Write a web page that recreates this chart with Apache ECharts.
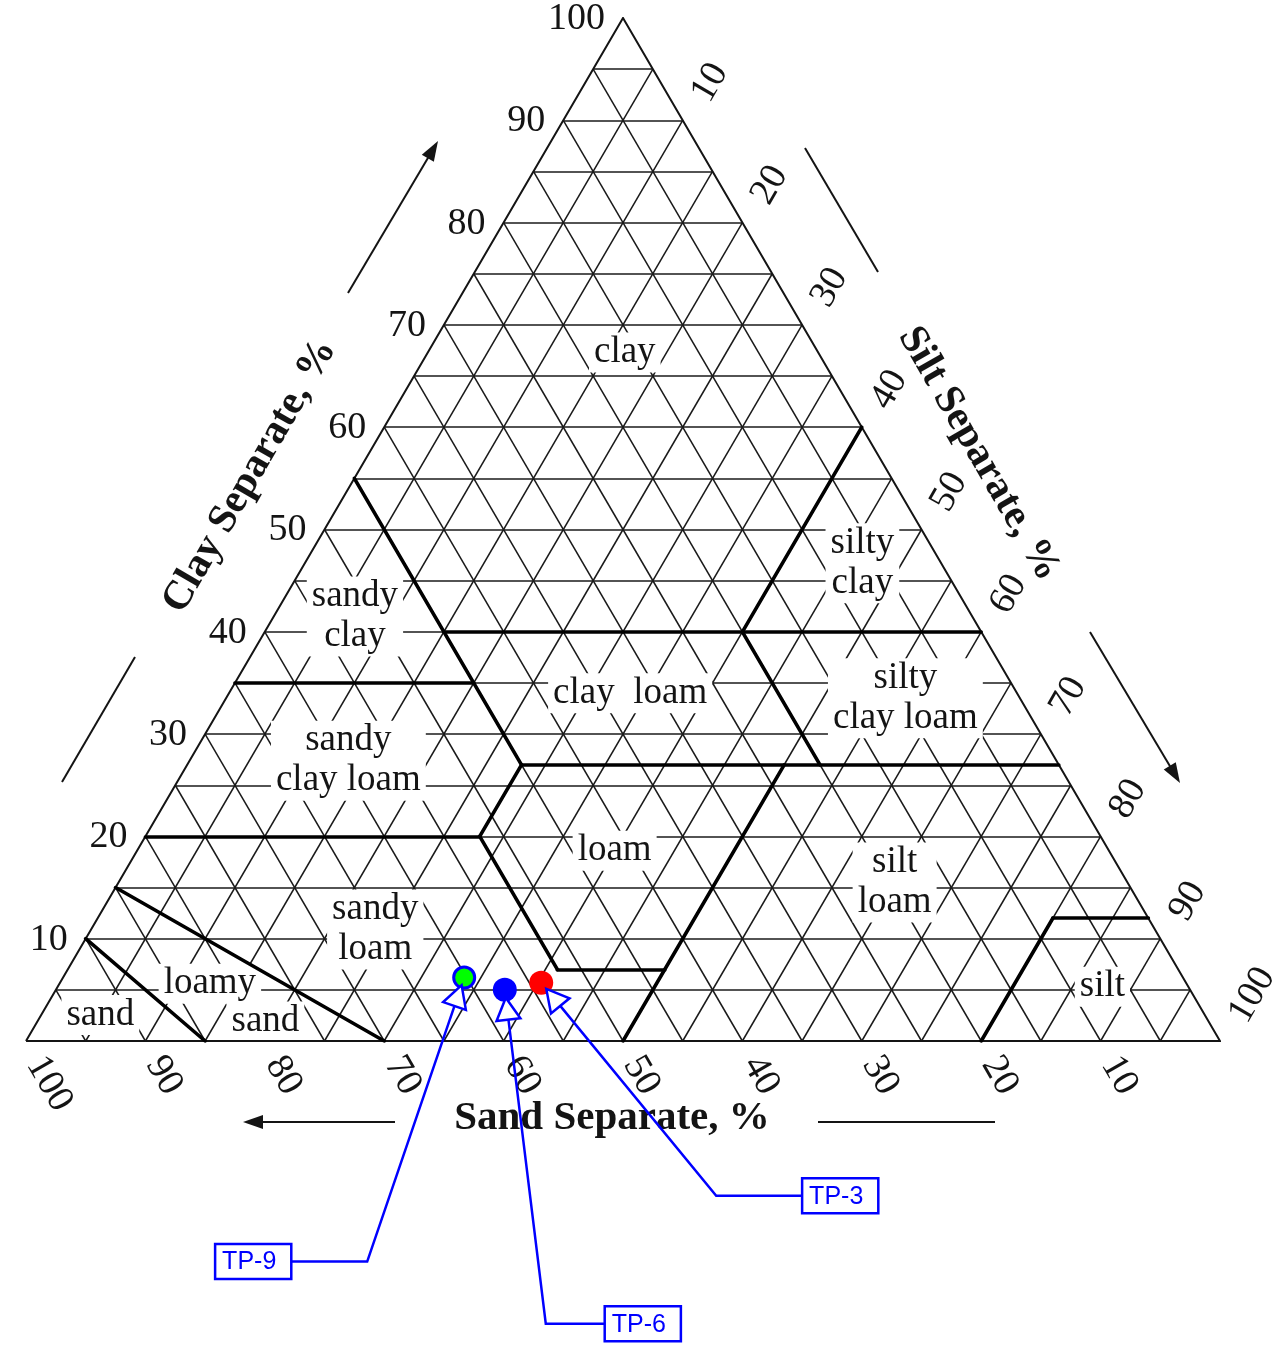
<!DOCTYPE html>
<html>
<head>
<meta charset="utf-8">
<title>Soil texture triangle</title>
<script src="https://cdn.jsdelivr.net/npm/echarts@6/dist/echarts.min.js"></script>
<style>
  html, body { margin: 0; padding: 0; background: #ffffff; }
  #chart { width: 1282px; height: 1345px; }
</style>
</head>
<body>
<div id="chart"></div>
<script>
// ---- axis ticks (percent) and spacing of the fine triangular grid ----
const tickValues = [10, 20, 30, 40, 50, 60, 70, 80, 90, 100];
const gridStep = 5;

// ---- texture class names and label anchors, as (sand, silt, clay) % ----
const classNames = ['clay', 'silty\nclay', 'sandy\nclay', 'clay  loam', 'silty\nclay loam',
                    'sandy\nclay loam', 'loam', 'silt\nloam', 'sandy\nloam', 'loamy', 'sand', 'sand', 'silt'];
const classSand = [16.2, 6.6, 51.7, 32.4, 9.6, 59.3, 41.4, 19.5, 65.3, 81.8, 79.0, 92.5, 7.2];
const classSilt = [16.5, 46.7, 6.8, 33.6, 56.9, 13.3, 40.0, 65.0, 23.8, 12.6, 19.1, 4.95, 87.5];
const classClay = [67.3, 46.7, 41.5, 34.0, 33.5, 27.4, 18.6, 15.5, 10.9, 5.6, 1.9, 2.55, 5.3];

// ---- class boundaries: each segment runs between two (sand, silt, clay) points ----
const boundarySegments = [
  [[45, 0, 55], [45, 28, 27]],   // sand 45 %
  [[45, 15, 40], [0, 60, 40]],   // clay 40 %
  [[0, 40, 60], [20, 40, 40]],   // silt 40 %
  [[65, 0, 35], [45, 20, 35]],   // clay 35 %
  [[20, 40, 40], [20, 53, 27]],  // sand 20 %
  [[45, 28, 27], [0, 73, 27]],   // clay 27 %
  [[80, 0, 20], [52, 28, 20]],   // clay 20 %
  [[52, 28, 20], [45, 28, 27]],  // silt 28 %
  [[52, 28, 20], [52, 41, 7]],   // sand 52 %
  [[52, 41, 7], [43, 50, 7]],    // clay 7 %
  [[23, 50, 27], [50, 50, 0]],   // silt 50 %
  [[20, 80, 0], [8, 80, 12]],    // silt 80 %
  [[8, 80, 12], [0, 88, 12]],    // clay 12 %
  [[85, 0, 15], [70, 30, 0]],    // loamy sand / sandy loam
  [[90, 0, 10], [85, 15, 0]]     // sand / loamy sand
];

// ---- test pit samples (sand, silt, clay) % ----
const sampleNames = ['TP-3', 'TP-6', 'TP-9'];
const sampleSand = [54.0, 57.4, 60.2];
const sampleSilt = [40.3, 37.6, 33.6];
const sampleClay = [5.7, 5.0, 6.2];

// marker look of each sample
const sampleStyle = {
  'TP-3': { size: 24, color: '#ff0000', border: '#ff0000', borderWidth: 0 },
  'TP-6': { size: 24, color: '#0000ff', border: '#0000ff', borderWidth: 0 },
  'TP-9': { size: 21, color: '#00ff00', border: '#0000ff', borderWidth: 3 }
};
// callout placement in pixels, relative to the marker centre
const calloutLayout = {
  'TP-3': { box: [299, 213], elbow: [175, 213] },
  'TP-6': { box: [138, 334], elbow: [41, 334] },
  'TP-9': { box: [-211, 284], elbow: [-97, 284] }
};

// ternary (sand, silt, clay) -> cartesian (x, y) in axis units
function tern(sand, silt, clay) {
  const t = sand + silt + clay;
  return [(silt + clay / 2) / t * 100, clay / t * 100];
}

const SERIF = '"Liberation Serif", "Times New Roman", serif';
const SANS = '"Liberation Sans", Arial, sans-serif';
const INK = '#141414';

// fine grid: lines of constant clay, sand and silt
const gridSegs = [];
for (let k = gridStep; k < 100; k += gridStep) {
  gridSegs.push({ coords: [tern(100 - k, 0, k), tern(0, 100 - k, k)] });
  gridSegs.push({ coords: [tern(k, 0, 100 - k), tern(k, 100 - k, 0)] });
  gridSegs.push({ coords: [tern(0, k, 100 - k), tern(100 - k, k, 0)] });
}
const outline = [{ coords: [tern(100, 0, 0), tern(0, 100, 0), tern(0, 0, 100), tern(100, 0, 0)] }];
const boundaryData = boundarySegments.map(s => ({ coords: [tern.apply(null, s[0]), tern.apply(null, s[1])] }));

function textStyle(o) {
  // give both the zrender and the legacy alignment names
  const s = Object.assign({}, o);
  if (s.align) s.textAlign = s.align;
  if (s.verticalAlign) s.textVerticalAlign = s.verticalAlign;
  return s;
}

// tick label series for one side of the triangle
function tickSeries(pointOf, dx, dy, rotation, align) {
  return {
    type: 'custom', coordinateSystem: 'cartesian2d', silent: true, z: 4,
    data: tickValues.map(v => pointOf(v)),
    renderItem: function (params, api) {
      const p = api.coord([api.value(0), api.value(1)]);
      return {
        type: 'text', x: p[0] + dx, y: p[1] + dy, rotation: rotation,
        style: textStyle({ text: String(tickValues[params.dataIndex]), font: '38px ' + SERIF,
          fill: INK, align: align, verticalAlign: 'middle' })
      };
    }
  };
}

// measure label text for the callout boxes
const measureCtx = document.createElement('canvas').getContext('2d');
measureCtx.font = '25px ' + SANS;

function calloutItem(params, api) {
  const name = sampleNames[params.dataIndex];
  const lay = calloutLayout[name];
  const p = api.coord([api.value(0), api.value(1)]);
  const blue = '#0000ff';
  const bx = p[0] + lay.box[0], by = p[1] + lay.box[1];
  const ex = p[0] + lay.elbow[0], ey = p[1] + lay.elbow[1];
  const tw = measureCtx.measureText(name).width;
  const padL = 7, padR = 15, h = 35;
  const w = tw + padL + padR;
  const left = bx - w / 2, top = by - h / 2;
  const edgeX = ex > bx ? left + w : left;
  // arrow tip sits just inside the marker, pointing from the elbow
  let ux = p[0] - ex, uy = p[1] - ey;
  const ul = Math.sqrt(ux * ux + uy * uy); ux /= ul; uy /= ul;
  const tip = [p[0] - ux * 8, p[1] - uy * 8];
  const headLen = 22, headHalf = 12;
  const base = [tip[0] - ux * headLen, tip[1] - uy * headLen];
  const nx = -uy, ny = ux;
  return {
    type: 'group',
    children: [
      { type: 'polyline', shape: { points: [[edgeX, by], [ex, ey], base] },
        style: { stroke: blue, lineWidth: 2.5, fill: null } },
      { type: 'polygon', shape: { points: [tip, [base[0] + nx * headHalf, base[1] + ny * headHalf],
          [base[0] - nx * headHalf, base[1] - ny * headHalf]] },
        style: { stroke: blue, lineWidth: 2.5, fill: '#ffffff' } },
      { type: 'rect', shape: { x: left, y: top, width: w, height: h },
        style: { stroke: blue, lineWidth: 2.5, fill: '#ffffff' } },
      { type: 'text', x: left + padL, y: by + 1,
        style: textStyle({ text: name, font: '25px ' + SANS, fill: blue, align: 'left', verticalAlign: 'middle' }) }
    ]
  };
}

// decorative axis arrows drawn in screen space
function arrowGraphic(x1, y1, x2, y2, withHead) {
  const els = [];
  let ux = x2 - x1, uy = y2 - y1;
  const l = Math.sqrt(ux * ux + uy * uy); ux /= l; uy /= l;
  const headLen = 20, headHalf = 7;
  const ex = withHead ? x2 - ux * headLen * 0.8 : x2;
  const ey = withHead ? y2 - uy * headLen * 0.8 : y2;
  els.push({ type: 'line', silent: true, shape: { x1: x1, y1: y1, x2: ex, y2: ey },
    style: { stroke: INK, lineWidth: 2 } });
  if (withHead) {
    const bx = x2 - ux * headLen, by = y2 - uy * headLen;
    const nx = -uy, ny = ux;
    els.push({ type: 'polygon', silent: true,
      shape: { points: [[x2, y2], [bx + nx * headHalf, by + ny * headHalf], [bx - nx * headHalf, by - ny * headHalf]] },
      style: { fill: INK } });
  }
  return els;
}

function titleGraphic(text, x, y, rotation) {
  return { type: 'text', x: x, y: y, rotation: rotation, silent: true,
    style: textStyle({ text: text, font: 'bold 41px ' + SERIF, fill: INK, align: 'center', verticalAlign: 'middle' }) };
}

const chart = echarts.init(document.getElementById('chart'), null, { renderer: 'canvas' });

chart.setOption({
  animation: false,
  backgroundColor: '#ffffff',
  grid: { left: 26, right: 62, top: 18, bottom: 304 },
  xAxis: { type: 'value', min: 0, max: 100, show: false },
  yAxis: { type: 'value', min: 0, max: 100, show: false },
  graphic: [].concat(
    titleGraphic('Clay Separate, %', 250, 476, Math.PI / 3),
    titleGraphic('Silt Separate, %', 979, 454, -Math.PI / 3),
    titleGraphic('Sand Separate, %', 612, 1118, 0),
    arrowGraphic(62, 782, 135, 657, false),
    arrowGraphic(348, 293, 438, 141, true),
    arrowGraphic(805, 148, 878, 272, false),
    arrowGraphic(1090, 632, 1180, 783, true),
    arrowGraphic(395, 1122, 243, 1122, true),
    arrowGraphic(818, 1122, 995, 1122, false)
  ),
  series: [
    {
      type: 'lines', coordinateSystem: 'cartesian2d', silent: true, z: 1,
      data: gridSegs,
      lineStyle: { color: '#1a1a1a', width: 1.5, opacity: 1 }
    },
    {
      type: 'custom', coordinateSystem: 'cartesian2d', silent: true, z: 2,
      data: classNames.map((n, i) => tern(classSand[i], classSilt[i], classClay[i])),
      renderItem: function (params, api) {
        const p = api.coord([api.value(0), api.value(1)]);
        return {
          type: 'text', x: p[0], y: p[1],
          style: textStyle({ text: classNames[params.dataIndex], font: '37px ' + SERIF, fill: INK,
            align: 'center', verticalAlign: 'middle', lineHeight: 40,
            backgroundColor: '#ffffff', padding: [0, 5] })
        };
      }
    },
    {
      type: 'lines', coordinateSystem: 'cartesian2d', polyline: true, silent: true, z: 3,
      data: outline,
      lineStyle: { color: INK, width: 2, opacity: 1 }
    },
    {
      type: 'lines', coordinateSystem: 'cartesian2d', silent: true, z: 3,
      data: boundaryData,
      lineStyle: { color: '#000000', width: 3.6, opacity: 1, cap: 'round' }
    },
    // clay ticks on the left side, silt on the right, sand along the base
    tickSeries(v => tern(100 - v, 0, v), -18, 1, 0, 'right'),
    tickSeries(v => tern(0, v, 100 - v), 18, -21, Math.PI / 3, 'left'),
    tickSeries(v => tern(v, 100 - v, 0), 9, 18, -Math.PI / 3, 'left'),
    {
      type: 'scatter', coordinateSystem: 'cartesian2d', silent: true, z: 5,
      data: sampleNames.map((n, i) => ({
        name: n,
        value: tern(sampleSand[i], sampleSilt[i], sampleClay[i]),
        symbolSize: sampleStyle[n].size,
        itemStyle: { color: sampleStyle[n].color, borderColor: sampleStyle[n].border,
          borderWidth: sampleStyle[n].borderWidth, opacity: 1 }
      }))
    },
    {
      type: 'custom', coordinateSystem: 'cartesian2d', silent: true, z: 6,
      data: sampleNames.map((n, i) => tern(sampleSand[i], sampleSilt[i], sampleClay[i])),
      renderItem: calloutItem
    }
  ]
});
</script>
</body>
</html>
